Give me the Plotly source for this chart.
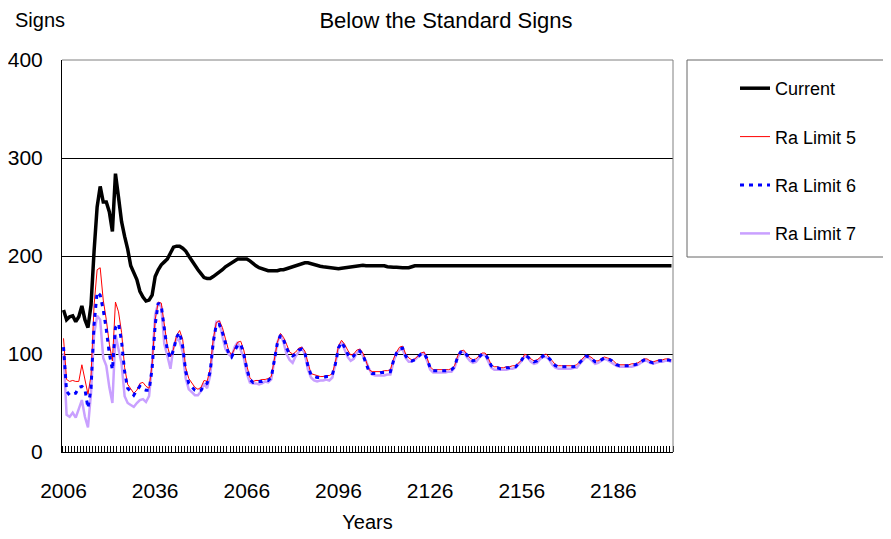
import plotly.graph_objects as go

years = list(range(2006, 2206))
tick_years = [2006, 2036, 2066, 2096, 2126, 2156, 2186]
tick_labels = ["2006", "2036", "2066", "2096", "2126", "2156", "2186"]
y_ticks = [0, 100, 200, 300, 400]

current = [
    145, 135, 138, 139, 133, 138, 149, 135, 127, 150,
    205, 250, 271, 255, 255, 245, 225, 284, 260, 235,
    220, 207, 190, 182, 176, 164, 158, 154, 155, 160,
    179, 186, 191, 194, 197, 203, 209, 210, 210, 208,
    205, 200, 195, 190, 186, 182, 178, 177, 177, 179,
    181, 183, 186, 189, 191, 193, 196, 197, 197, 197,
    197, 195, 192, 190, 188, 187, 186, 185, 185, 185,
    185, 186, 186, 187, 188, 189, 190, 191, 192, 193,
    193, 192, 191, 190, 189.5, 189, 188.5, 188, 187.5, 187,
    187, 187.5, 188, 188.5, 189, 189.5, 190, 190, 190.5, 190,
    190, 190, 190, 190, 190, 190, 189, 188.5, 188.5, 188.5,
    188, 188, 188, 188, 189, 190, 190, 190, 190, 190,
    190, 190, 190, 190, 190, 190, 190, 190, 190, 190,
    190, 190, 190, 190, 190, 190, 190, 190, 190, 190,
    190, 190, 190, 190, 190, 190, 190, 190, 190, 190,
    190, 190, 190, 190, 190, 190, 190, 190, 190, 190,
    190, 190, 190, 190, 190, 190, 190, 190, 190, 190,
    190, 190, 190, 190, 190, 190, 190, 190, 190, 190,
    190, 190, 190, 190, 190, 190, 190, 190, 190, 190,
    190, 190, 190, 190, 190, 190, 190, 190, 190, 190,
]

ra_limit_5 = [
    116, 74, 72, 73, 72, 72, 89, 74, 59, 78,
    150, 186, 188, 155, 135, 110, 93, 153, 143, 122,
    86, 69, 64, 60, 63, 70, 71, 67, 65, 90,
    135, 153, 152, 132, 108, 97, 105, 119, 124,
    115, 86, 75, 70, 66, 64, 66, 73, 72, 85,
    115, 132, 134, 127, 114, 104, 99, 105, 112, 113,
    104, 88, 76, 72, 73, 73, 74, 74, 75, 77,
    95, 112, 121, 117, 110, 102, 100, 102, 106,
    107, 103, 90, 80, 79, 78, 77, 77, 78, 78,
    80, 92, 108, 114, 110, 104, 99, 100, 104, 105,
    101, 93, 84, 82, 82, 82, 82, 83, 83, 84,
    95, 102, 107, 108, 100, 96, 94, 95, 98, 101,
    102, 96, 87, 84, 84, 84, 84, 84, 84, 85,
    88, 98, 103, 104, 100, 96, 94, 95, 98, 101,
    101, 96, 89, 87, 87, 86, 86, 87, 87, 88,
    88, 91, 94, 100, 98, 95, 93, 94, 97, 99,
    100, 97, 93, 89, 88, 88, 88, 88, 88, 88,
    89, 92, 96, 99, 98, 96, 93, 93, 95, 97,
    96, 95, 93, 90, 89, 89, 89, 89, 90, 90,
    91, 93, 95, 95, 93, 92, 93, 94, 94, 95,
    95, 94,
]

ra_limit_6 = [
    107, 62, 58, 59, 60, 66, 67, 64, 45, 65,
    130, 163, 160, 145, 125, 100, 84, 127, 131, 113,
    82, 65, 62, 58, 63, 67, 64, 63, 63, 85,
    130, 152, 149, 128, 103, 96, 104, 117, 122,
    108, 82, 70, 66, 63, 62, 63, 68, 70, 82,
    112, 130, 130, 122, 110, 101, 97, 103, 109, 110,
    100, 85, 74, 71, 72, 72, 72, 73, 73, 76,
    94, 111, 119, 115, 106, 100, 98, 100, 104,
    105, 101, 88, 79, 77, 76, 76, 76, 77, 77,
    79, 90, 106, 112, 107, 100, 96, 98, 103, 103,
    99, 91, 82, 80, 80, 80, 81, 81, 82, 82,
    93, 101, 105, 106, 98, 94, 93, 94, 97, 100,
    101, 95, 86, 83, 83, 83, 83, 83, 83, 84,
    87, 97, 102, 103, 99, 95, 93, 94, 97, 100,
    100, 95, 88, 86, 86, 85, 85, 86, 86, 87,
    87, 90, 94, 99, 97, 94, 92, 93, 96, 98,
    99, 96, 92, 88, 87, 87, 87, 87, 87, 87,
    88, 91, 95, 98, 97, 95, 92, 92, 94, 96,
    95, 94, 92, 89, 88, 88, 88, 88, 89, 89,
    90, 92, 94, 94, 92, 91, 92, 93, 93, 94,
    94, 93,
]

ra_limit_7 = [
    101, 38, 36, 40, 35, 45, 53, 36, 25, 60,
    120, 139, 135, 96, 88, 66, 50, 120, 106, 90,
    57, 50, 48, 46, 50, 53, 54, 51, 57, 90,
    140, 152, 148, 110, 98, 85, 107, 116, 113,
    102, 75, 64, 61, 58, 58, 62, 70, 65, 78,
    110, 133, 133, 118, 105, 100, 97, 107, 112, 104,
    96, 80, 71, 70, 70, 69, 70, 72, 71, 74,
    92, 112, 120, 112, 100, 94, 91, 98, 102,
    106, 100, 84, 76, 73, 72, 73, 73, 74, 73,
    76, 90, 107, 112, 105, 97, 93, 95, 101, 104,
    98, 93, 85, 79, 78, 78, 78, 78, 79, 79,
    92, 101, 104, 105, 96, 92, 92, 94, 97, 99,
    101, 93, 84, 81, 81, 81, 81, 81, 82, 82,
    86, 96, 102, 102, 97, 93, 91, 92, 96, 99,
    99, 93, 86, 84, 84, 84, 84, 84, 85, 85,
    86, 89, 93, 98, 96, 92, 90, 91, 95, 97,
    97, 94, 89, 86, 85, 85, 85, 85, 85, 86,
    86, 90, 94, 97, 96, 93, 90, 91, 93, 95,
    94, 92, 90, 88, 87, 87, 87, 87, 87, 88,
    89, 91, 93, 93, 91, 90, 91, 92, 92, 93,
    93, 92,
]

for arr in (current, ra_limit_5, ra_limit_6, ra_limit_7):
    assert len(arr) == len(years), len(arr)

FONT = "Liberation Sans, Arial, sans-serif"

fig = go.Figure()
fig.add_trace(go.Scatter(x=years, y=ra_limit_7, mode="lines", name="Ra Limit 7",
                         line=dict(color="#C9A0FF", width=2.5), legendrank=4, legendgroup="d"))
fig.add_trace(go.Scatter(x=years, y=ra_limit_5, mode="lines", name="Ra Limit 5",
                         line=dict(color="#FF0000", width=1), legendrank=2, legendgroup="b"))
fig.add_trace(go.Scatter(x=years, y=ra_limit_6, mode="lines", name="Ra Limit 6",
                         line=dict(color="#0000FF", width=3, dash="4px,5px"), legendrank=3, legendgroup="c"))
fig.add_trace(go.Scatter(x=years, y=current, mode="lines", name="Current",
                         line=dict(color="#000000", width=3.5), legendrank=1, legendgroup="a"))

# The page body has an 8px margin; size the figure so the plot lands where the reference has it.
OFF = 8
W, H = 891 - OFF, 539 - OFF
L, R, T, B = 62 - OFF, 218, 60 - OFF, 87
pw, ph = W - L - R, H - T - B

def px2x(sx):
    return (sx - OFF - L) / pw

def py2y(sy):
    return (H - B - (sy - OFF)) / ph

box_line = dict(color="#666666", width=1)
bx0, bx1 = px2x(687), px2x(960)
by0, by1 = py2y(257), py2y(60)

fig.update_layout(
    width=W, height=H,
    margin=dict(l=L, r=R, t=T, b=B, autoexpand=False),
    paper_bgcolor="white", plot_bgcolor="white",
    font=dict(family=FONT, color="black"),
    title=dict(text="Below the Standard Signs", x=(446 - OFF) / W, xref="container", xanchor="center",
               y=1 - (20 - OFF) / H, yref="container", yanchor="middle",
               font=dict(size=22, family=FONT)),
    showlegend=True,
    legend=dict(x=px2x(735), y=py2y(70), xanchor="left", yanchor="top",
                bgcolor="rgba(0,0,0,0)", borderwidth=0, font=dict(size=18, family=FONT),
                tracegroupgap=22, traceorder="grouped"),
    xaxis=dict(range=[2005.5, 2205.5], tickmode="array", tickvals=tick_years, ticktext=tick_labels,
               ticks="", showgrid=False, zeroline=False, showline=True, linecolor="black", linewidth=1,
               tickfont=dict(size=21, family=FONT), ticklabelstandoff=20, automargin=False,
               minor=dict(ticks="inside", tick0=2005.5, dtick=1, ticklen=6, tickcolor="black",
                          tickwidth=1, showgrid=False),
               title=dict(text="Years", font=dict(size=20, family=FONT), standoff=13)),
    yaxis=dict(range=[0, 400], tickmode="array", tickvals=y_ticks, ticks="",
               showgrid=True, gridcolor="black", gridwidth=1, zeroline=False,
               showline=True, linecolor="black", linewidth=1, automargin=False,
               tickfont=dict(size=21, family=FONT), ticklabelstandoff=14),
    annotations=[dict(text="Signs", x=px2x(40), y=py2y(20), xref="paper", yref="paper",
                      showarrow=False, xanchor="center", yanchor="middle",
                      font=dict(size=20, family=FONT))],
    shapes=[
        dict(type="line", xref="paper", yref="paper", x0=0, x1=1, y0=1, y1=1,
             line=dict(color="#808080", width=1), layer="above"),
        dict(type="line", xref="paper", yref="paper", x0=1, x1=1, y0=0, y1=1,
             line=dict(color="#808080", width=1), layer="above"),
        dict(type="line", xref="paper", yref="paper", x0=bx0, x1=bx0, y0=by0, y1=by1,
             line=box_line, layer="above"),
        dict(type="line", xref="paper", yref="paper", x0=bx0, x1=bx1, y0=by1, y1=by1,
             line=box_line, layer="above"),
        dict(type="line", xref="paper", yref="paper", x0=bx0, x1=bx1, y0=by0, y1=by0,
             line=box_line, layer="above"),
    ],
)

fig.write_html("out.html")
